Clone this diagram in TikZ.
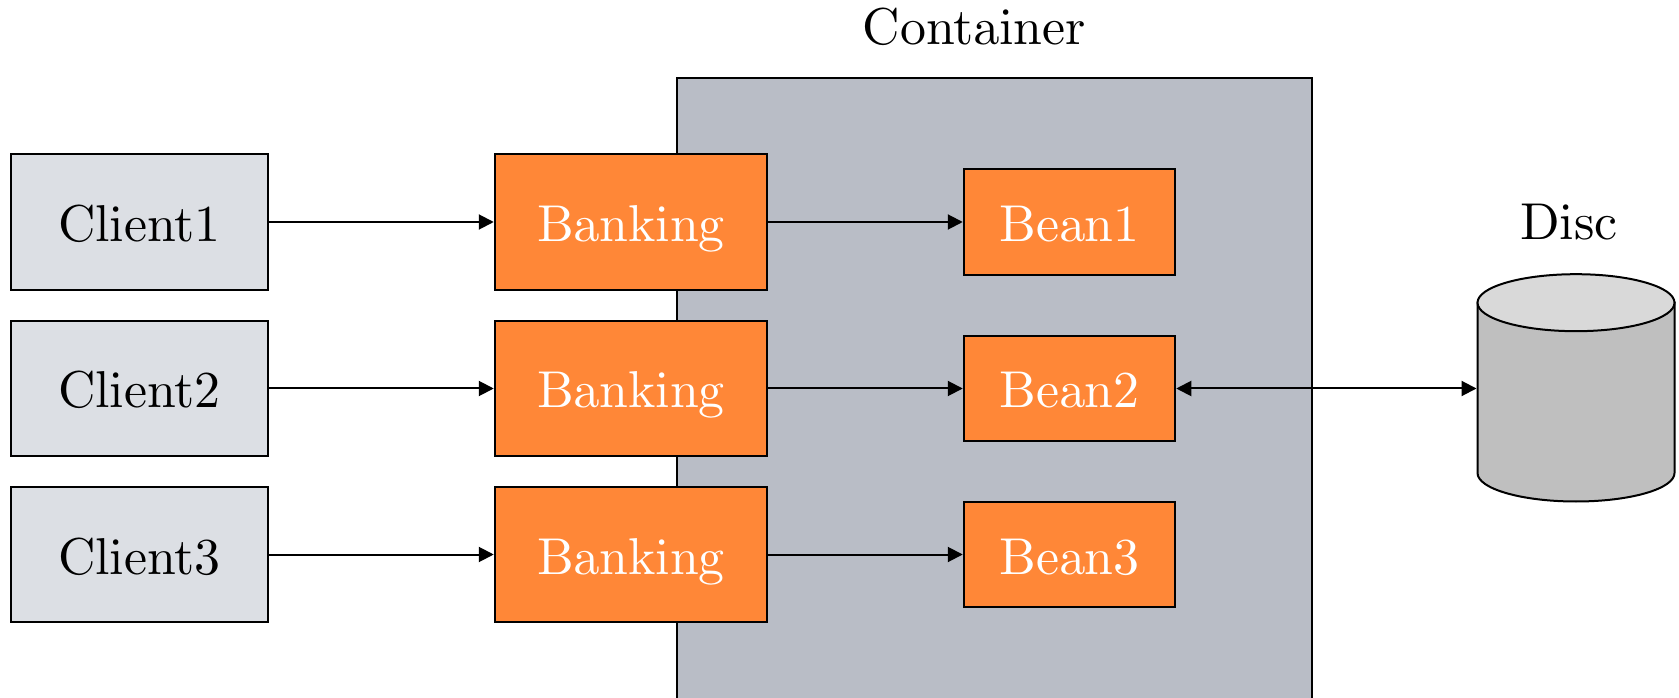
\documentclass[tikz,border=0pt]{standalone}
\usetikzlibrary{arrows.meta}

\definecolor{clientgray}{HTML}{DCDFE4}
\definecolor{containergray}{HTML}{B9BDC6}
\definecolor{beanorange}{HTML}{FF8737}
\definecolor{discside}{HTML}{BFBFBF}
\definecolor{disctop}{HTML}{D9D9D9}

\font\nodefont=cmr10 at 29.5pt

\tikzstyle{label} = [font=\nodefont,anchor=base,inner sep=0pt]
\tikzstyle{box} = [rectangle,draw=black,line width=0.04cm,font=\nodefont,inner sep=0pt,text height=0.78cm,text depth=0cm]
\tikzstyle{client} = [box,fill=clientgray,minimum width=5.14cm,minimum height=2.71cm]
\tikzstyle{banking} = [box,fill=beanorange,text=white,minimum width=5.45cm,minimum height=2.71cm]
\tikzstyle{bean} = [box,fill=beanorange,text=white,minimum width=4.23cm,minimum height=2.11cm]
\tikzstyle{container} = [rectangle,draw=black,line width=0.04cm,fill=containergray,minimum width=12.69cm,minimum height=13cm]
\tikzstyle{disc} = [rectangle,line width=0.04cm,minimum width=3.94cm,minimum height=4.55cm,inner sep=0pt]
\tikzstyle{discpart} = [draw=black,line width=0.04cm]
\tikzstyle{link} = [line width=0.04cm,-{Triangle[length=0.3cm,width=0.3cm]}]
\tikzstyle{duplex} = [line width=0.04cm,{Triangle[length=0.3cm,width=0.3cm]}-{Triangle[length=0.3cm,width=0.3cm]}]

\begin{document}
\begin{tikzpicture}
	\clip (0,0) rectangle (33.58,13.94);

	\node[container] (container) at (19.89,5.88) {};
	\node[label] (containerlabel) at (19.49,13.04) {Container};
	\node[label] (disclabel) at (31.38,9.14) {Disc};

	\node[client] (client1) at (2.79,9.50) {Client1};
	\node[client] (client2) at (2.79,6.17) {Client2};
	\node[client] (client3) at (2.79,2.85) {Client3};

	\node[banking] (banking1) at (12.62,9.50) {Banking};
	\node[banking] (banking2) at (12.62,6.17) {Banking};
	\node[banking] (banking3) at (12.62,2.85) {Banking};

	\node[bean] (bean1) at (21.39,9.50) {Bean1};
	\node[bean] (bean2) at (21.39,6.17) {Bean2};
	\node[bean] (bean3) at (21.39,2.85) {Bean3};

	\node[disc] (disc) at (31.52,6.17) {};
	\draw[discpart,fill=discside] (29.55,7.886) -- (29.55,4.48) arc[start angle=180,end angle=360,x radius=1.97,y radius=0.57] -- (33.49,7.886) -- cycle;
	\draw[discpart,fill=disctop] (31.52,7.886) ellipse [x radius=1.97,y radius=0.57];

	\draw[link] (client1) -- (banking1);
	\draw[link] (client2) -- (banking2);
	\draw[link] (client3) -- (banking3);
	\draw[link] (banking1) -- (bean1);
	\draw[link] (banking2) -- (bean2);
	\draw[link] (banking3) -- (bean3);
	\draw[duplex] (bean2) -- (disc);
\end{tikzpicture}
\end{document}
